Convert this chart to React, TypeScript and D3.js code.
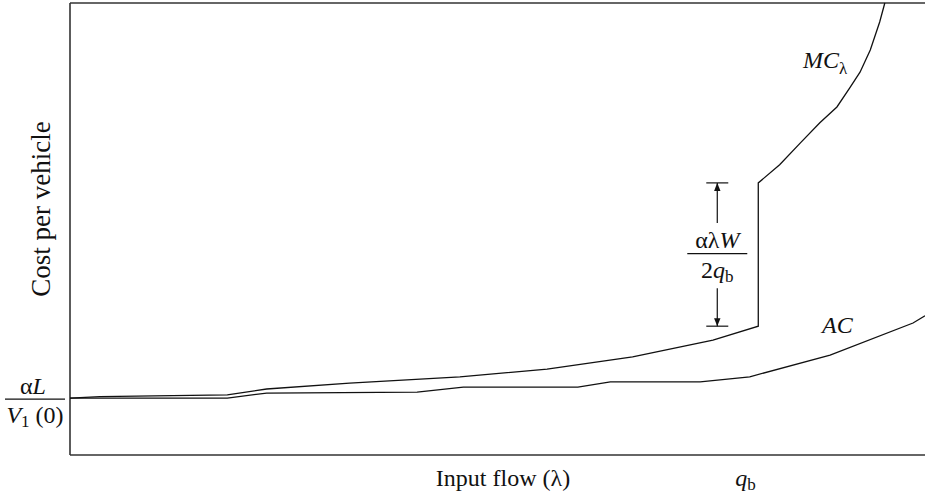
import * as d3 from "d3";
import { useEffect, useRef } from "react";

// flow (0..100) and cost (0..100) in arbitrary units
const mcFlow = [0, 3.5, 18.4, 23.0, 32.7, 45.6, 55.8, 65.8, 75.2, 80.5, 80.5, 83.0, 85.4, 87.7, 89.7, 91.2, 92.4, 93.6, 94.7, 95.3];
const mcCost = [12.6, 12.9, 13.3, 14.6, 15.9, 17.3, 19.0, 21.7, 25.4, 28.5, 60.2, 64.2, 69.0, 73.5, 77.0, 81.2, 84.7, 89.6, 95.8, 100];

const acFlow = [0, 18.4, 23.0, 40.6, 46.0, 59.4, 63.2, 73.7, 79.5, 88.9, 98.6, 100];
const acCost = [12.6, 12.6, 13.7, 13.9, 15.0, 15.0, 16.2, 16.2, 17.3, 22.1, 29.2, 30.8];

const qb = 80.5; // flow where the jump happens
const jumpLow = 28.5;
const jumpHigh = 60.2;

const W = 925;
const H = 496;

const App = () => {
  const ref = useRef<SVGSVGElement | null>(null);

  useEffect(() => {
    const svg = d3.select(ref.current);
    svg.selectAll("*").remove();

    const margin = { top: 3, right: 0, bottom: 41, left: 70 };
    const x = d3.scaleLinear().domain([0, 100]).range([margin.left, W - margin.right]);
    const y = d3.scaleLinear().domain([0, 100]).range([H - margin.bottom, margin.top]);

    const font = "'Liberation Serif', 'Times New Roman', serif";

    svg
      .append("defs")
      .append("marker")
      .attr("id", "head")
      .attr("viewBox", "0 0 10 10")
      .attr("refX", 10)
      .attr("refY", 5)
      .attr("markerWidth", 8)
      .attr("markerHeight", 8)
      .attr("markerUnits", "userSpaceOnUse")
      .attr("orient", "auto")
      .append("path")
      .attr("d", "M0,1 L10,5 L0,9 Z")
      .attr("fill", "#111");

    // рамка: левая, нижняя и верхняя линии
    const frame = svg.append("g").attr("stroke", "#333").attr("stroke-width", 1.6).attr("fill", "none");
    frame.append("line").attr("x1", x(0)).attr("x2", x(0)).attr("y1", y(100)).attr("y2", y(0));
    frame.append("line").attr("x1", x(0)).attr("x2", x(100)).attr("y1", y(0)).attr("y2", y(0));
    frame.append("line").attr("x1", x(0)).attr("x2", x(100)).attr("y1", y(100)).attr("y2", y(100));

    const curve = d3
      .line<[number, number]>()
      .x((d) => x(d[0]))
      .y((d) => y(d[1]));

    svg
      .append("path")
      .datum(mcFlow.map((f, i) => [f, mcCost[i]] as [number, number]))
      .attr("d", curve)
      .attr("fill", "none")
      .attr("stroke", "#111")
      .attr("stroke-width", 1.3);

    svg
      .append("path")
      .datum(acFlow.map((f, i) => [f, acCost[i]] as [number, number]))
      .attr("d", curve)
      .attr("fill", "none")
      .attr("stroke", "#111")
      .attr("stroke-width", 1.3);

    // размерная стрелка
    const ax = x(qb) - 41;
    const g = svg.append("g").attr("stroke", "#111").attr("stroke-width", 1.2);
    g.append("line").attr("x1", ax - 11).attr("x2", ax + 11).attr("y1", y(jumpHigh)).attr("y2", y(jumpHigh));
    g.append("line").attr("x1", ax - 11).attr("x2", ax + 11).attr("y1", y(jumpLow)).attr("y2", y(jumpLow));
    g.append("line").attr("x1", ax).attr("x2", ax).attr("y1", y(jumpHigh) + 40).attr("y2", y(jumpHigh)).attr("marker-end", "url(#head)");
    g.append("line").attr("x1", ax).attr("x2", ax).attr("y1", y(jumpLow) - 38).attr("y2", y(jumpLow)).attr("marker-end", "url(#head)");

    const midY = (y(jumpHigh) + y(jumpLow)) / 2;
    g.append("line").attr("x1", ax - 30).attr("x2", ax + 30).attr("y1", midY - 1).attr("y2", midY - 1);

    const txt = (tx: number, ty: number, anchor = "middle", size = 24) =>
      svg
        .append("text")
        .attr("x", tx)
        .attr("y", ty)
        .attr("text-anchor", anchor)
        .attr("font-family", font)
        .attr("font-size", size)
        .attr("fill", "#111");

    const t1 = txt(ax, midY - 7);
    t1.append("tspan").text("αλ");
    t1.append("tspan").attr("font-style", "italic").text("W");
    const t2 = txt(ax, midY + 23);
    t2.append("tspan").text("2");
    t2.append("tspan").attr("font-style", "italic").text("q");
    t2.append("tspan").attr("font-size", 17).attr("dy", 4).text("b");

    // подписи кривых
    const m = txt(803, 68, "start");
    m.append("tspan").attr("font-style", "italic").text("MC");
    m.append("tspan").attr("font-size", 17).attr("dy", 6).text("λ");
    txt(822, 333, "start").attr("font-style", "italic").text("AC");

    // ось X
    txt(503, 486).text("Input flow (λ)");
    const q = txt(x(qb) - 23, 486, "start");
    q.append("tspan").attr("font-style", "italic").text("q");
    q.append("tspan").attr("font-size", 17).attr("dy", 4).text("b");

    // ось Y
    txt(0, 0, "middle", 27)
      .attr("transform", `translate(50, ${209}) rotate(-90)`)
      .text("Cost per vehicle");

    // αL / V1(0)
    const y0 = y(mcCost[0]);
    const a = txt(33, y0 - 4);
    a.append("tspan").text("α");
    a.append("tspan").attr("font-style", "italic").text("L");
    svg.append("line").attr("x1", 5).attr("x2", 65).attr("y1", y0 + 1).attr("y2", y0 + 1).attr("stroke", "#111").attr("stroke-width", 1.2);
    const v = txt(35, y0 + 25);
    v.append("tspan").attr("font-style", "italic").text("V");
    v.append("tspan").attr("font-size", 17).attr("dy", 4).text("1");
    v.append("tspan").attr("dy", -4).text(" (0)");
  }, []);

  return (
    <svg
      ref={ref}
      width={W}
      height={H}
      style={{ position: "absolute", left: 0, top: 0, background: "#fff" }}
    />
  );
};

export default App;
